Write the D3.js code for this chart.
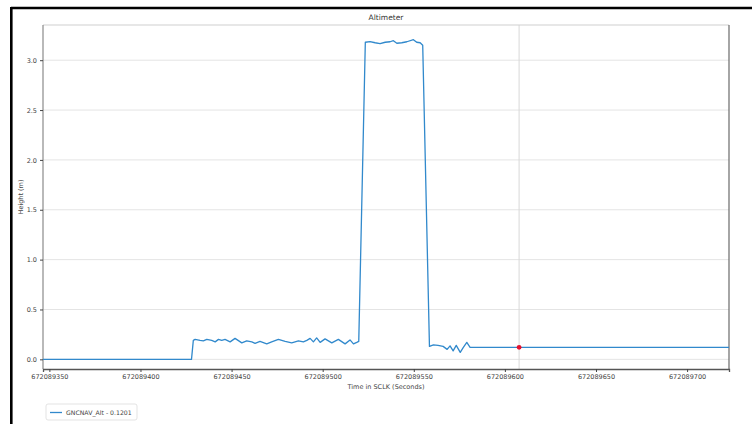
<!DOCTYPE html>
<html>
<head>
<meta charset="utf-8">
<title>Altimeter</title>
<script src="https://cdn.jsdelivr.net/npm/d3@7/dist/d3.min.js"></script>
<style>
  body { margin: 0; background: #fff; }
  svg { display: block; font-family: "DejaVu Sans", sans-serif; }
</style>
</head>
<body>
<svg id="chart" width="752" height="424"></svg>
<script>
// SCLK seconds are stored as offsets from this base
var sclkBase = 672089000;
var times = [346.5, 428.0, 429.0, 430.0, 432.7, 434.5, 436.4, 439.1, 441.0, 442.8,
  444.6, 446.4, 449.2, 451.9, 455.6, 458.3, 461.1, 462.9, 465.6, 469.3,
  472.0, 475.7, 479.4, 483.0, 486.7, 489.4, 491.3, 493.1, 494.9, 496.7,
  498.6, 501.3, 505.0, 508.6, 512.3, 515.0, 516.9, 518.7, 519.8, 523.4,
  526.0, 528.8, 531.5, 534.3, 537.0, 538.8, 540.7, 543.4, 546.2, 549.8,
  551.6, 553.5, 554.9, 558.6, 560.8, 563.3, 566.1, 568.3, 569.9, 571.6,
  573.3, 575.5, 577.2, 579.1, 580.9, 723.0];
var heights = [0, 0, 0.19, 0.20, 0.19, 0.185, 0.20, 0.19, 0.175, 0.20,
  0.19, 0.20, 0.175, 0.21, 0.165, 0.185, 0.175, 0.16, 0.18, 0.155,
  0.175, 0.20, 0.18, 0.165, 0.185, 0.175, 0.19, 0.21, 0.175, 0.215,
  0.17, 0.205, 0.165, 0.20, 0.155, 0.195, 0.155, 0.17, 0.18, 3.18,
  3.186, 3.175, 3.166, 3.18, 3.185, 3.196, 3.17, 3.175, 3.185, 3.206,
  3.18, 3.175, 3.15, 0.13, 0.145, 0.14, 0.13, 0.10, 0.135, 0.085,
  0.14, 0.07, 0.12, 0.17, 0.12, 0.12];
var xTicks = [350, 400, 450, 500, 550, 600, 650, 700];
var yTicks = [0, 0.5, 1.0, 1.5, 2.0, 2.5, 3.0];
var cursorTime = 607.8;
var cursorValue = 0.1201;
var seriesName = "GNCNAV_Alt";

var svg = d3.select("#chart");
var pLeft = 43, pRight = 729, pTop = 25, pBottom = 369;

// outer frame (top and left edges only are in view)
svg.append("line").attr("x1", 11).attr("x2", 752).attr("y1", 8).attr("y2", 8)
  .attr("stroke", "#000").attr("stroke-width", 2.6);
svg.append("line").attr("x1", 11.3).attr("x2", 11.3).attr("y1", 7).attr("y2", 424)
  .attr("stroke", "#000").attr("stroke-width", 2.6);

var x = d3.scaleLinear().domain([sclkBase + 346.5, sclkBase + 723]).range([pLeft, pRight]);
var y = d3.scaleLinear().domain([-0.097, 3.353]).range([pBottom, pTop]);

// horizontal grid
svg.append("g").selectAll("line").data(yTicks).enter()
  .append("line")
  .attr("x1", pLeft).attr("x2", pRight)
  .attr("y1", function(d){ return y(d); })
  .attr("y2", function(d){ return y(d); })
  .attr("stroke", "#e4e4e4").attr("stroke-width", 1);

// cursor line
svg.append("line")
  .attr("x1", x(sclkBase + cursorTime)).attr("x2", x(sclkBase + cursorTime))
  .attr("y1", pTop).attr("y2", pBottom)
  .attr("stroke", "#d8d8d8").attr("stroke-width", 1);

// spines
svg.append("line").attr("x1", pLeft).attr("x2", pRight).attr("y1", pTop).attr("y2", pTop)
  .attr("stroke", "#cfcfcf");
svg.append("line").attr("x1", pLeft).attr("x2", pLeft).attr("y1", pTop).attr("y2", pBottom)
  .attr("stroke", "#8a8a8a").attr("stroke-width", 1.2);
svg.append("line").attr("x1", pRight).attr("x2", pRight).attr("y1", pTop).attr("y2", pBottom)
  .attr("stroke", "#6a6a6a").attr("stroke-width", 1.2);

var xAxis = svg.append("g")
  .attr("transform", "translate(0," + pBottom + ")")
  .call(d3.axisBottom(x)
    .tickValues(xTicks.map(function(t){ return sclkBase + t; }))
    .tickFormat(d3.format("d")).tickSize(3).tickPadding(2));
var yAxis = svg.append("g")
  .attr("transform", "translate(" + pLeft + ",0)")
  .call(d3.axisLeft(y).tickValues(yTicks).tickFormat(d3.format(".1f")).tickSize(3).tickPadding(3));

xAxis.select(".domain").attr("stroke", "#555").attr("stroke-width", 1.3);
yAxis.select(".domain").remove();
[xAxis, yAxis].forEach(function(a){
  a.selectAll(".tick line").attr("stroke", "#444");
  a.selectAll("text").attr("fill", "#444").style("font-size", "6.5px")
    .style("font-family", "'DejaVu Sans', sans-serif");
});

// data line
var pts = times.map(function(t, i){ return [sclkBase + t, heights[i]]; });
svg.append("path").datum(pts)
  .attr("d", d3.line().x(function(d){ return x(d[0]); }).y(function(d){ return y(d[1]); }))
  .attr("fill", "none").attr("stroke", "#3189cc").attr("stroke-width", 1.3)
  .attr("stroke-linejoin", "round");

svg.append("circle")
  .attr("cx", x(sclkBase + cursorTime)).attr("cy", y(cursorValue)).attr("r", 2.4)
  .attr("fill", "#e5102e");

// titles
svg.append("text").attr("x", (pLeft + pRight) / 2).attr("y", 20)
  .attr("text-anchor", "middle").attr("fill", "#333").style("font-size", "7.5px")
  .text("Altimeter");
svg.append("text").attr("x", (pLeft + pRight) / 2).attr("y", 389)
  .attr("text-anchor", "middle").attr("fill", "#444").style("font-size", "6.5px")
  .text("Time in SCLK (Seconds)");
svg.append("text")
  .attr("transform", "translate(23," + ((pTop + pBottom) / 2) + ") rotate(-90)")
  .attr("text-anchor", "middle").attr("fill", "#444").style("font-size", "6.5px")
  .text("Height (m)");

// legend
var lg = svg.append("g").attr("transform", "translate(46,404)");
lg.append("rect").attr("width", 91).attr("height", 16).attr("rx", 2)
  .attr("fill", "#fff").attr("stroke", "#dcdcdc").attr("stroke-width", 0.8);
lg.append("line").attr("x1", 4).attr("x2", 16).attr("y1", 8.5).attr("y2", 8.5)
  .attr("stroke", "#3189cc").attr("stroke-width", 1.3);
lg.append("text").attr("x", 20).attr("y", 10.8).attr("fill", "#444")
  .style("font-size", "6.2px")
  .text(seriesName + " - " + cursorValue.toFixed(4));
</script>
</body>
</html>
